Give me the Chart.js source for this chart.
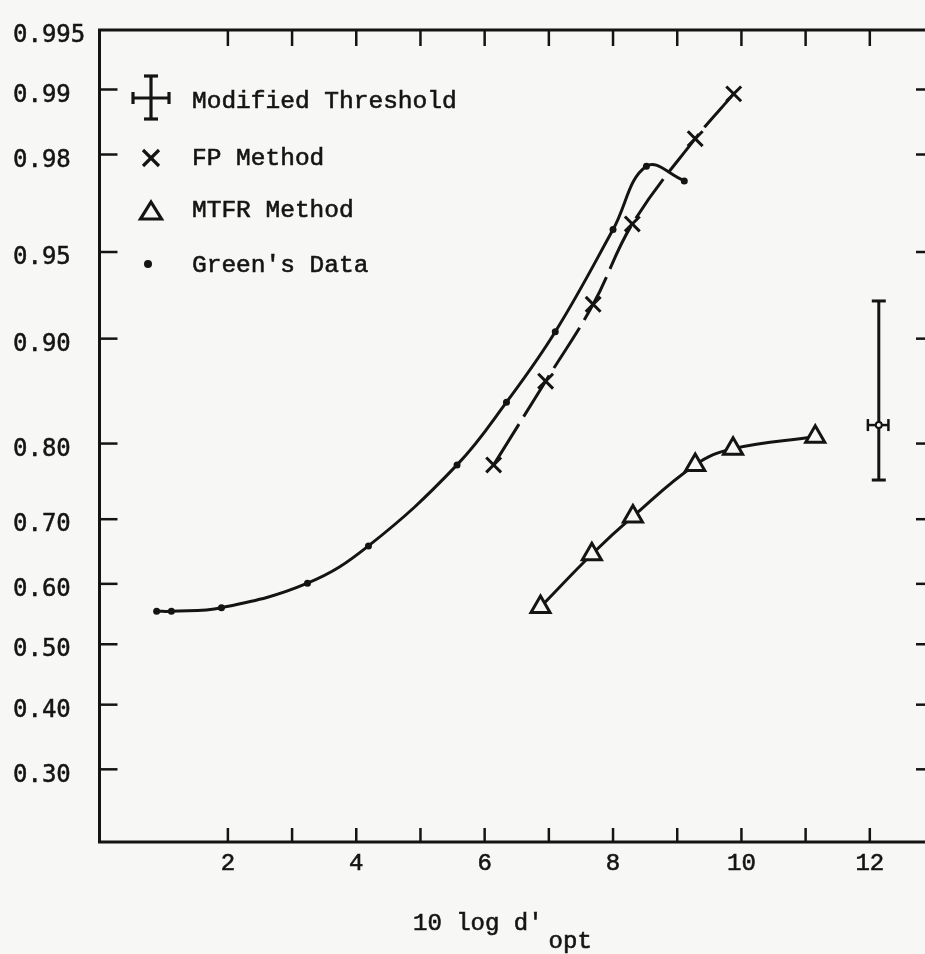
<!DOCTYPE html>
<html>
<head>
<meta charset="utf-8">
<script src="https://cdn.jsdelivr.net/npm/chart.js@4.4.1/dist/chart.umd.min.js"></script>
<style>
  html, body { margin: 0; padding: 0; background: #f7f7f5; overflow: hidden; }
  canvas { display: block; }
</style>
</head>
<body>
<canvas id="chart" width="960" height="954"></canvas>
<script>
// x = 10 log d'opt, y = probability (plotted on a normal-probability axis)
const greenX = [0.89, 1.12, 1.90, 3.24, 4.19, 5.57, 6.34, 7.10, 8.00, 8.52, 9.11];
const greenP = [0.555, 0.555, 0.561, 0.601, 0.660, 0.774, 0.845, 0.905, 0.959, 0.9775, 0.974];

const fpX = [6.14, 6.95, 7.69, 8.30, 9.28, 9.88];
const fpP = [0.774, 0.865, 0.923, 0.961, 0.983, 0.9895];

const mtfrX = [6.87, 7.67, 8.31, 9.28, 9.87, 11.15];
const mtfrP = [0.562, 0.647, 0.704, 0.774, 0.794, 0.808];

// modified threshold: one point with error bars in both directions
const modX = [12.14];
const modP = [0.821];
const modXLow = [11.97];
const modXHigh = [12.29];
const modPLow = [0.7545];
const modPHigh = [0.925];

const xTicks = [2, 3, 4, 5, 6, 7, 8, 9, 10, 11, 12];
const xTickLabels = ['2', '', '4', '', '6', '', '8', '', '10', '', '12'];
const yTickP = [0.30, 0.40, 0.50, 0.60, 0.70, 0.80, 0.90, 0.95, 0.98, 0.99, 0.995];
const yTickLabels = ['0.30', '0.40', '0.50', '0.60', '0.70', '0.80', '0.90', '0.95', '0.98', '0.99', '0.995'];

const xRange = [0, 13];
const pRange = [0.2035, 0.995];

const ink = '#141414';
const paper = '#f7f7f5';

// inverse normal cdf (Acklam)
function probit(p) {
    const a = [-39.69683028665376, 220.9460984245205, -275.9285104469687, 138.3577518672690, -30.66479806614716, 2.506628277459239];
    const b = [-54.47609879822406, 161.5858368580409, -155.6989798598866, 66.80131188771972, -13.28068155288572];
    const c = [-0.007784894002430293, -0.3223964580411365, -2.400758277161838, -2.549732539343734, 4.374664141464968, 2.938163982698783];
    const d = [0.007784695709041462, 0.3224671290700398, 2.445134137142996, 3.754408661907416];
    const pl = 0.02425;
    let q, r;
    if (p < pl) {
        q = Math.sqrt(-2 * Math.log(p));
        return (((((c[0] * q + c[1]) * q + c[2]) * q + c[3]) * q + c[4]) * q + c[5]) /
            ((((d[0] * q + d[1]) * q + d[2]) * q + d[3]) * q + 1);
    }
    if (p <= 1 - pl) {
        q = p - 0.5;
        r = q * q;
        return (((((a[0] * r + a[1]) * r + a[2]) * r + a[3]) * r + a[4]) * r + a[5]) * q /
            (((((b[0] * r + b[1]) * r + b[2]) * r + b[3]) * r + b[4]) * r + 1);
    }
    q = Math.sqrt(-2 * Math.log(1 - p));
    return -(((((c[0] * q + c[1]) * q + c[2]) * q + c[3]) * q + c[4]) * q + c[5]) /
        ((((d[0] * q + d[1]) * q + d[2]) * q + d[3]) * q + 1);
}

function toPoints(xs, ps) {
    return xs.map((x, i) => ({ x: x, y: probit(ps[i]) }));
}

function line(ctx, x1, y1, x2, y2) {
    ctx.beginPath();
    ctx.moveTo(x1, y1);
    ctx.lineTo(x2, y2);
    ctx.stroke();
}

// typewriter-ish text: fill plus a thin stroke to thicken the strokes
function typeText(ctx, txt, x, y) {
    ctx.fillText(txt, x, y);
    ctx.strokeText(txt, x, y);
}

const errorBars = {
    id: 'errorBars',
    beforeDatasetsDraw(chart) {
        const { ctx, scales: { x, y } } = chart;
        ctx.save();
        ctx.strokeStyle = ink;
        modX.forEach((mx, i) => {
            const cx = x.getPixelForValue(mx);
            const cy = y.getPixelForValue(probit(modP[i]));
            const yTop = y.getPixelForValue(probit(modPHigh[i]));
            const yBot = y.getPixelForValue(probit(modPLow[i]));
            const xl = x.getPixelForValue(modXLow[i]);
            const xr = x.getPixelForValue(modXHigh[i]);
            ctx.lineWidth = 3;
            line(ctx, cx, yTop, cx, yBot);
            line(ctx, cx - 7, yTop, cx + 7, yTop);
            line(ctx, cx - 7, yBot, cx + 7, yBot);
            ctx.lineWidth = 2.5;
            line(ctx, xl, cy, xr, cy);
            line(ctx, xl, cy - 6, xl, cy + 6);
            line(ctx, xr, cy - 6, xr, cy + 6);
        });
        ctx.restore();
    }
};

const frame = {
    id: 'frame',
    afterDraw(chart) {
        const { ctx, chartArea: a, scales: { x, y } } = chart;
        ctx.save();
        ctx.strokeStyle = ink;
        ctx.fillStyle = ink;
        ctx.lineWidth = 3;
        ctx.strokeRect(a.left, a.top, a.right - a.left, a.bottom - a.top);

        // inward ticks on all four sides
        ctx.lineWidth = 2.5;
        xTicks.forEach(v => {
            const px = x.getPixelForValue(v);
            line(ctx, px, a.bottom, px, a.bottom - 14);
            line(ctx, px, a.top, px, a.top + 16);
        });
        yTickP.forEach(p => {
            if (p >= pRange[1]) return;
            const py = y.getPixelForValue(probit(p));
            line(ctx, a.left, py, a.left + 18, py);
            line(ctx, a.right, py, a.right - 18, py);
        });

        // legend
        ctx.lineWidth = 3.2;
        let lx = 151, ly = 98;
        line(ctx, lx, 75, lx, 120);
        line(ctx, lx - 7, 76, lx + 7, 76);
        line(ctx, lx - 7, 119, lx + 7, 119);
        line(ctx, 133, ly, 169, ly);
        line(ctx, 133, ly - 6, 133, ly + 6);
        line(ctx, 169, ly - 6, 169, ly + 6);

        ly = 158;
        line(ctx, lx - 8, ly - 8, lx + 8, ly + 8);
        line(ctx, lx - 8, ly + 8, lx + 8, ly - 8);

        ly = 211;
        ctx.beginPath();
        ctx.moveTo(lx, ly - 9);
        ctx.lineTo(lx + 10.5, ly + 8);
        ctx.lineTo(lx - 10.5, ly + 8);
        ctx.closePath();
        ctx.stroke();

        ctx.beginPath();
        ctx.arc(148, 264, 4, 0, Math.PI * 2);
        ctx.fill();

        ctx.lineWidth = 0.6;
        ctx.font = '24.5px "Liberation Mono", monospace';
        ctx.textBaseline = 'middle';
        ctx.textAlign = 'left';
        typeText(ctx, 'Modified Threshold', 192, 102);
        typeText(ctx, 'FP Method', 192, 159);
        typeText(ctx, 'MTFR Method', 192, 211);
        typeText(ctx, "Green's Data", 192, 266);

        // axis title with subscript
        ctx.font = '24px "Liberation Mono", monospace';
        const main = "10 log d'";
        typeText(ctx, main, 413, 924);
        const w = ctx.measureText(main).width;
        typeText(ctx, 'opt', 413 + w + 6, 942);
        ctx.restore();
    }
};

new Chart(document.getElementById('chart'), {
    type: 'line',
    data: {
        datasets: [
            {
                label: 'Modified Threshold',
                data: toPoints(modX, modP),
                showLine: false,
                pointStyle: 'circle',
                pointRadius: 3,
                pointBorderWidth: 2,
                pointBorderColor: ink,
                pointBackgroundColor: paper
            },
            {
                label: 'FP Method',
                data: toPoints(fpX, fpP),
                borderColor: ink,
                borderWidth: 3,
                borderDash: [48, 9],
                tension: 0.4,
                pointStyle: 'crossRot',
                pointRadius: 10.5,
                pointBorderWidth: 3,
                pointBorderColor: ink
            },
            {
                label: 'MTFR Method',
                data: toPoints(mtfrX, mtfrP),
                borderColor: ink,
                borderWidth: 3,
                tension: 0.4,
                pointStyle: 'triangle',
                pointRadius: 11,
                pointBorderWidth: 3,
                pointBorderColor: ink,
                pointBackgroundColor: paper
            },
            {
                label: "Green's Data",
                data: toPoints(greenX, greenP),
                borderColor: ink,
                borderWidth: 3,
                tension: 0.4,
                pointStyle: 'circle',
                pointRadius: 3.5,
                pointBorderWidth: 0,
                pointBackgroundColor: ink
            }
        ]
    },
    options: {
        responsive: false,
        animation: false,
        // canvas is wider than the window: the frame's right edge falls just off-screen, as in the scan
        layout: { padding: { left: 13, right: 26, top: 30, bottom: 0 } },
        plugins: {
            legend: { display: false },
            tooltip: { enabled: false }
        },
        scales: {
            x: {
                type: 'linear',
                min: xRange[0],
                max: xRange[1],
                grid: { display: false, drawTicks: false },
                border: { display: false },
                afterBuildTicks: scale => { scale.ticks = xTicks.map(v => ({ value: v })); },
                afterFit: scale => {
                    scale.height = 112;
                    scale.paddingLeft = 0;
                    scale.paddingRight = 0;
                },
                ticks: {
                    color: ink,
                    padding: 7,
                    maxRotation: 0,
                    autoSkip: false,
                    textStrokeColor: ink,
                    textStrokeWidth: 0.6,
                    font: { family: '"Liberation Mono", monospace', size: 24 },
                    callback: (v, i) => xTickLabels[i]
                }
            },
            y: {
                type: 'linear',
                min: probit(pRange[0]),
                max: probit(pRange[1]),
                grid: { display: false, drawTicks: false },
                border: { display: false },
                afterBuildTicks: scale => { scale.ticks = yTickP.map(p => ({ value: probit(p) })); },
                afterFit: scale => { scale.width = 86.5; },
                ticks: {
                    color: ink,
                    crossAlign: 'far',
                    labelOffset: 6,
                    autoSkip: false,
                    textStrokeColor: ink,
                    textStrokeWidth: 0.5,
                    font: { family: '"DejaVu Sans Mono", monospace', size: 24 },
                    callback: (v, i) => yTickLabels[i]
                }
            }
        }
    },
    plugins: [errorBars, frame]
});
</script>
</body>
</html>
